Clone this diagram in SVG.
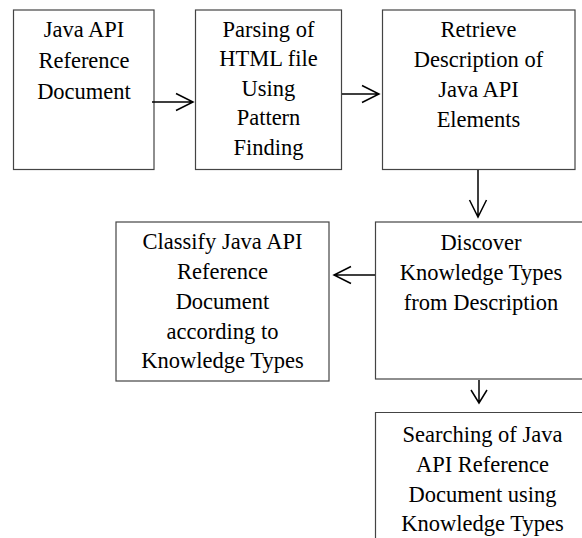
<svg xmlns="http://www.w3.org/2000/svg" width="582" height="538" viewBox="0 0 582 538">
<style>
.box{fill:#fff;stroke:#444;stroke-width:1.2}
.t{font-family:"Liberation Serif","Times New Roman",serif;font-size:22.5px;fill:#000;text-anchor:middle}
.c{fill:none;stroke:#000;stroke-width:1.5}
</style>
<rect width="582" height="538" fill="#fff"/>
<g id="n1">
<rect class="box" x="13.5" y="10" width="140.5" height="159.5"/>
<text class="t" x="84" y="37">Java API</text>
<text class="t" x="84" y="68">Reference</text>
<text class="t" x="84" y="99">Document</text>
</g>
<g id="n2">
<rect class="box" x="195.5" y="10" width="146" height="159.5"/>
<text class="t" x="268.5" y="36.5">Parsing of</text>
<text class="t" x="268.5" y="66">HTML file</text>
<text class="t" x="268.5" y="95.5">Using</text>
<text class="t" x="268.5" y="125">Pattern</text>
<text class="t" x="268.5" y="154.5">Finding</text>
</g>
<g id="n3">
<rect class="box" x="382.5" y="10" width="192.5" height="159.5"/>
<text class="t" x="478.5" y="36.5">Retrieve</text>
<text class="t" x="478.5" y="66.5">Description of</text>
<text class="t" x="478.5" y="96.5">Java API</text>
<text class="t" x="478.5" y="126.5">Elements</text>
</g>
<g id="n4">
<rect class="box" x="375.5" y="222" width="220" height="157"/>
<text class="t" x="481" y="250">Discover</text>
<text class="t" x="481" y="280">Knowledge Types</text>
<text class="t" x="481" y="310">from Description</text>
</g>
<g id="n5">
<rect class="box" x="116" y="222" width="213" height="159"/>
<text class="t" x="222.5" y="249">Classify Java API</text>
<text class="t" x="222.5" y="279">Reference</text>
<text class="t" x="222.5" y="309">Document</text>
<text class="t" x="222.5" y="338.5">according to</text>
<text class="t" x="222.5" y="368">Knowledge Types</text>
</g>
<g id="n6">
<path class="box" d="M600,412.5 H375.5 V545" fill="none"/>
<text class="t" x="482.5" y="442">Searching of Java</text>
<text class="t" x="482.5" y="472">API Reference</text>
<text class="t" x="482.5" y="502">Document using</text>
<text class="t" x="482.5" y="531">Knowledge Types</text>
</g>
<g id="connectors">
<path class="c" d="M152,102 H193 M176,93.5 L193,102 L176,110.5"/>
<path class="c" d="M342,94 H379 M362,85.5 L379,94 L362,102.5"/>
<path class="c" d="M478,170 V217 M469.5,200 L478,217 L486.5,200"/>
<path class="c" d="M375,275 H334 M351,266.5 L334,275 L351,283.5"/>
<path class="c" d="M479,380 V403 M471,390 L479,403 L487,390"/>
</g>
</svg>
